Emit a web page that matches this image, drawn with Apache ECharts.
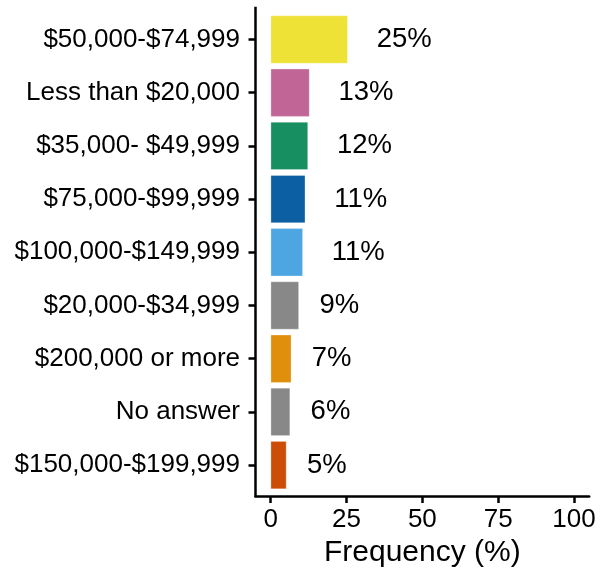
<!DOCTYPE html>
<html>
<head>
<meta charset="utf-8">
<script src="https://cdn.jsdelivr.net/npm/echarts@6/dist/echarts.min.js"></script>
<style>html,body{margin:0;padding:0;background:#fff;}#c{width:606px;height:575px;}</style>
</head>
<body>
<div id="c"></div>
<script>
const categories = ["$50,000-$74,999","Less than $20,000","$35,000- $49,999","$75,000-$99,999","$100,000-$149,999","$20,000-$34,999","$200,000 or more","No answer","$150,000-$199,999"];
const values = [25.4, 12.8, 12.3, 11.4, 10.6, 9.3, 6.8, 6.4, 5.2];
const valueLabels = ["25%","13%","12%","11%","11%","9%","7%","6%","5%"];
const barColors = ["#EEE236","#C06596","#188F60","#0C5FA3","#4DA6E2","#888888","#E08F0C","#888888","#CB4D06"];
const xTicks = [0, 25, 50, 75, 100];

const FONT = '"Liberation Sans", Arial, Helvetica, sans-serif';
const chart = echarts.init(document.getElementById('c'), null, {renderer: 'canvas'});

const seriesData = values.map((v, i) => ({
  value: v,
  itemStyle: {color: barColors[i]},
  label: {formatter: valueLabels[i], distance: valueLabels[i].length > 2 ? 29 : 20.5}
}));

chart.setOption({
  animation: false,
  backgroundColor: '#ffffff',
  grid: {left: 255.5, right: 16.8, top: 12.9, bottom: 83.3, containLabel: false},
  xAxis: {
    type: 'value', min: -5, max: 105, offset: 4.3,
    name: 'Frequency (%)', nameLocation: 'middle', nameGap: 42,
    nameTextStyle: {fontFamily: FONT, fontSize: 30, color: '#000'},
    axisLine: {show: true, onZero: false, lineStyle: {color: '#000', width: 2.5}},
    axisTick: {show: true, length: 7, lineStyle: {color: '#000', width: 2.5}, customValues: xTicks},
    axisLabel: {fontFamily: FONT, fontSize: 26, color: '#000', margin: 11, customValues: xTicks},
    splitLine: {show: false}
  },
  yAxis: {
    type: 'category', data: categories, inverse: true,
    axisLine: {show: false, onZero: false},
    axisTick: {show: true, alignWithLabel: true, length: 7, lineStyle: {color: '#000', width: 2.5}},
    axisLabel: {fontFamily: FONT, fontSize: 26, color: '#000', margin: 15.5},
    splitLine: {show: false}
  },
  graphic: [{
    type: 'line', silent: true,
    shape: {x1: 255.5, y1: 6.7, x2: 255.5, y2: 497.2},
    style: {stroke: '#000', lineWidth: 2.5}
  }],
  series: [{
    type: 'bar', data: seriesData, barCategoryGap: '10%',
    itemStyle: {borderColor: 'rgba(255,255,255,0.6)', borderWidth: 0.5},
    label: {show: true, position: 'right', fontFamily: FONT, fontSize: 27.5, color: '#000'}
  }]
});
</script>
</body>
</html>
